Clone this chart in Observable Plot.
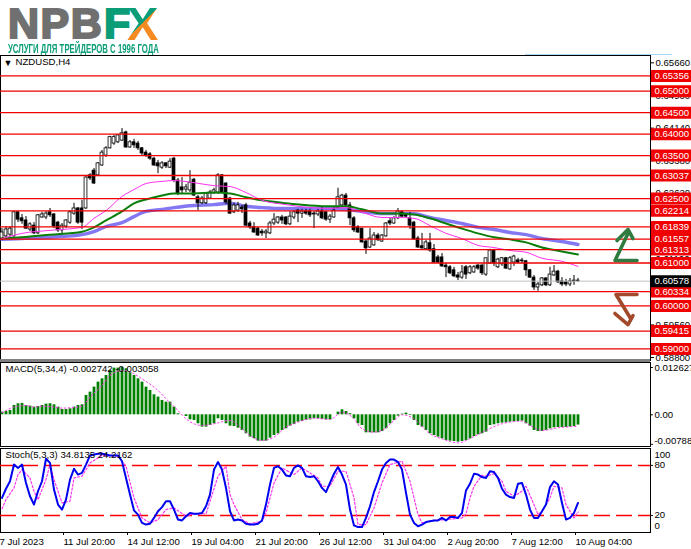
<!DOCTYPE html>
<html><head><meta charset="utf-8">
<script src="https://cdn.jsdelivr.net/npm/d3@7"></script>
<script src="https://cdn.jsdelivr.net/npm/@observablehq/plot@0.6"></script>
<style>
html,body{margin:0;padding:0;background:#fff;}
#root{position:relative;width:691px;height:549px;overflow:hidden;font-family:"Liberation Sans",sans-serif;}
#root>svg,#root>div{position:absolute;left:0;}
#root>svg{overflow:visible;}
.lg{position:absolute;font:bold 43px "Liberation Sans",sans-serif;line-height:43px;-webkit-text-stroke:2px currentColor;}
</style></head><body><div id="root"></div>
<script>
const opens=[.6157,.6162,.6166,.6162,.6218,.6204,.6199,.6178,.6187,.6169,.6206,.6206,.6218,.6213,.6194,.6176,.6185,.6194,.6215,.6227,.6227,.6227,.6304,.6315,.6304,.6327,.6350,.6367,.6378,.6381,.6385,.6404,.6369,.6381,.6378,.6367,.6357,.6353,.6343,.6332,.6322,.6332,.6322,.6343,.6292,.6276,.6271,.6269,.6294,.6253,.6239,.6239,.6250,.6262,.6264,.6304,.6285,.6250,.6218,.6222,.6229,.6234,.6192,.6183,.6180,.6173,.6169,.6169,.6192,.6194,.6206,.6206,.6190,.6206,.6222,.6215,.6220,.6220,.6215,.6213,.6220,.6218,.6201,.6206,.6229,.6234,.6257,.6234,.6204,.6183,.6180,.6150,.6136,.6141,.6164,.6150,.6162,.6197,.6192,.6204,.6218,.6211,.6204,.6194,.6157,.6139,.6132,.6146,.6132,.6113,.6113,.6094,.6090,.6083,.6071,.6066,.6090,.6076,.6078,.6094,.6094,.6073,.6099,.6129,.6090,.6097,.6111,.6085,.6101,.6106,.6104,.6104,.6083,.6066,.6043,.6048,.6064,.6048,.6071,.6080,.6057,.6055,.6050,.6057,.6059];
const closes=[.6171,.6178,.6180,.6218,.6201,.6197,.6180,.6190,.6169,.6211,.6213,.6215,.6211,.6185,.6176,.6187,.6199,.6218,.6227,.6194,.6194,.6299,.6297,.6285,.6332,.6357,.6367,.6393,.6393,.6397,.6402,.6369,.6381,.6374,.6367,.6355,.6350,.6343,.6327,.6325,.6332,.6325,.6336,.6292,.6262,.6269,.6276,.6287,.6257,.6239,.6250,.6262,.6264,.6269,.6304,.6264,.6241,.6215,.6234,.6234,.6225,.6187,.6183,.6171,.6164,.6169,.6173,.6192,.6201,.6206,.6199,.6190,.6208,.6218,.6215,.6220,.6215,.6211,.6213,.6220,.6204,.6201,.6208,.6222,.6253,.6257,.6234,.6204,.6176,.6171,.6148,.6134,.6157,.6164,.6153,.6164,.6192,.6192,.6204,.6220,.6208,.6208,.6187,.6155,.6136,.6134,.6148,.6129,.6101,.6101,.6092,.6090,.6076,.6069,.6066,.6078,.6073,.6090,.6090,.6087,.6076,.6111,.6129,.6099,.6108,.6111,.6087,.6111,.6115,.6101,.6106,.6083,.6066,.6043,.6050,.6064,.6048,.6073,.6080,.6055,.6050,.6050,.6057,.6059,.60578];
const lows=[.6153,.6157,.6160,.6160,.6194,.6190,.6178,.6173,.6166,.6166,.6204,.6201,.6206,.6180,.6171,.6166,.6180,.6190,.6211,.6190,.6178,.6225,.6292,.6283,.6301,.6325,.6346,.6365,.6374,.6378,.6383,.6367,.6367,.6367,.6362,.6350,.6346,.6339,.6325,.6308,.6318,.6320,.6320,.6287,.6257,.6260,.6264,.6264,.6255,.6222,.6236,.6236,.6248,.6260,.6260,.6262,.6236,.6213,.6215,.6218,.6215,.6185,.6178,.6169,.6162,.6162,.6157,.6166,.6187,.6190,.6190,.6187,.6187,.6201,.6194,.6204,.6211,.6206,.6180,.6208,.6201,.6197,.6192,.6204,.6227,.6229,.6232,.6187,.6171,.6169,.6146,.6120,.6134,.6139,.6150,.6148,.6160,.6187,.6190,.6201,.6206,.6204,.6178,.6153,.6134,.6132,.6129,.6125,.6099,.6099,.6090,.6066,.6073,.6066,.6059,.6062,.6062,.6073,.6076,.6083,.6071,.6069,.6097,.6092,.6087,.6092,.6085,.6083,.6092,.6099,.6099,.6069,.6064,.6036,.6034,.6045,.6045,.6045,.6069,.6052,.6045,.6045,.6045,.6048,.6055];
const highs=[.6180,.6185,.6185,.6220,.6220,.6213,.6208,.6194,.6194,.6213,.6218,.6220,.6227,.6215,.6197,.6192,.6201,.6222,.6239,.6229,.6246,.6301,.6308,.6320,.6334,.6362,.6371,.6395,.6397,.6399,.6413,.6407,.6385,.6388,.6383,.6369,.6362,.6357,.6346,.6339,.6336,.6334,.6343,.6346,.6297,.6299,.6283,.6315,.6297,.6257,.6255,.6264,.6269,.6274,.6308,.6306,.6287,.6253,.6239,.6241,.6234,.6239,.6197,.6194,.6183,.6178,.6178,.6197,.6215,.6208,.6211,.6208,.6220,.6222,.6225,.6225,.6225,.6225,.6220,.6225,.6229,.6220,.6213,.6229,.6274,.6260,.6262,.6241,.6208,.6187,.6180,.6153,.6180,.6171,.6169,.6166,.6194,.6204,.6208,.6227,.6222,.6215,.6218,.6197,.6162,.6169,.6153,.6169,.6143,.6118,.6122,.6099,.6094,.6090,.6078,.6094,.6094,.6094,.6094,.6097,.6097,.6111,.6132,.6132,.6111,.6113,.6113,.6115,.6118,.6111,.6111,.6106,.6085,.6071,.6055,.6066,.6066,.6090,.6094,.6083,.6066,.6062,.6064,.6071,.6064];

const maBars=[0,5,12,20,23,26,30,33,36,40,43,48,53,57,61,65,71,77,82,86,90,95,99,103,107,111,115,119,123,127,131,135,140,144];
const maFast=[.6157,.6169,.6176,.6183,.6204,.6222,.6255,.6271,.6285,.6290,.6292,.6287,.6280,.6278,.6264,.6246,.6236,.6229,.6227,.6229,.6218,.6206,.6206,.6204,.6187,.6169,.6157,.6141,.6136,.6129,.6125,.6111,.6104,.6092];
const maMid=[.6157,.6160,.6166,.6173,.6183,.6199,.6220,.6239,.6248,.6257,.6262,.6262,.6264,.6262,.6253,.6246,.6239,.6234,.6232,.6232,.6225,.6215,.6215,.6213,.6204,.6192,.6180,.6169,.6160,.6155,.6148,.6136,.6127,.6120];
const maSlow=[.6155,.6157,.6160,.6166,.6173,.6185,.6194,.6208,.6220,.6225,.6229,.6234,.6236,.6239,.6232,.6229,.6227,.6227,.6227,.6225,.6220,.6215,.6215,.6215,.6206,.6199,.6192,.6183,.6178,.6171,.6166,.6157,.6150,.6143];

const levels=[.65356,.65,.645,.64,.635,.63037,.625,.62214,.61839,.61557,.61313,.61,.60334,.6,.59415,.59];
const lastPrice=.60578;
const priceTicks=[.6566,.649,.6414,.6338,.6262,.611,.5956,.588];

const upLineBars=[158.75,153.25,156.5], upLinePrices=[.61058,.61058,.61687];
const upHeadBars=[153.75,156.5,157.75], upHeadPrices=[.61523,.6178,.6157];
const downLineBars=[158.75,153.5,157], downLinePrices=[.60266,.60266,.59731];
const downHeadBars=[153.25,156.5,157.75], downHeadPrices=[.59824,.59568,.59777];

const macdHist=[.00071,.00089,.00116,.00249,.00294,.00303,.00249,.00231,.00205,.00223,.00249,.00285,.00294,.00267,.00205,.00142,.00142,.0016,.00205,.00249,.00267,.00516,.00605,.00739,.00872,.00961,.0105,.01184,.01246,.01246,.01262,.01228,.01139,.0105,.00961,.00872,.00739,.0065,.00534,.00472,.00383,.00338,.00338,.00205,.00027,0,-.00045,-.00134,-.00151,-.0024,-.00329,-.00329,-.00285,-.0024,-.00107,-.00151,-.0024,-.00303,-.00312,-.00356,-.00418,-.00507,-.00596,-.00641,-.00703,-.00703,-.00703,-.00623,-.00552,-.00507,-.00418,-.00374,-.00303,-.00258,-.00196,-.00178,-.00151,-.00134,-.00107,-.00107,-.00125,-.00134,-.00134,0,.00071,.00134,.00089,.00027,-.00107,-.0024,-.00285,-.00481,-.00481,-.00481,-.00481,-.00445,-.00374,-.0024,-.00151,-.00036,.00018,.00045,-.00018,-.00151,-.00285,-.00329,-.00418,-.00507,-.00552,-.00596,-.00641,-.00685,-.00703,-.00712,-.0073,-.00712,-.00685,-.00641,-.00579,-.00534,-.00507,-.00463,-.00285,-.00267,-.0024,-.00223,-.00214,-.00196,-.00187,-.00178,-.00169,-.0024,-.00303,-.00418,-.00445,-.00445,-.00418,-.00374,-.00347,-.00338,-.00338,-.00338,-.00329,-.00312,-.00274];
const macdSignalBars=[0,3,6,8,10,13,15,20,22,25,27,30,33,35,39,41,44,46,50,53,57,60,62,65,68,71,74,78,82,85,88,90,93,95,98,100,103,107,110,114,118,121,125,130,132,135,139,144];
const macdSignal=[.00053,.00205,.00249,.00205,.00231,.00205,.00178,.00231,.00472,.00783,.0105,.01184,.01095,.00961,.0065,.00427,.00116,-.00107,-.00285,-.0024,-.00151,-.00374,-.00552,-.00685,-.00596,-.00329,-.00196,-.00089,-.00125,.00071,-.00107,-.00374,-.00463,-.00418,-.00151,0,-.00107,-.00507,-.00641,-.00748,-.00579,-.00418,-.0024,-.00169,-.00285,-.00418,-.00347,-.00306];

const stochMain=[41,52,61,81,77,81,59,43,33,49,61,88,83,51,33,27,39,63,76,69,71,81,92,93,94,94,93,92,92,92,85,65,45,26,21,11,9,10,17,25,30,37,37,27,15,14,19,23,22,22,23,31,45,75,84,75,53,25,14,15,14,10,9,9,10,14,33,57,77,79,75,68,67,77,80,77,67,66,67,61,53,48,59,70,78,69,57,27,8,6,6,17,31,48,61,75,83,87,87,84,75,47,21,11,7,9,12,13,14,14,17,14,18,18,17,23,50,58,70,69,66,65,73,72,65,52,45,42,41,58,59,45,27,17,17,25,33,54,61,57,35,15,17,23,35];
const stochSignalBars=[0,1,3,4,5,7,8,9,11,12,13,15,17,18,20,22,25,29,31,33,35,37,39,41,43,46,48,51,52,54,56,57,58,60,62,65,66,68,70,73,75,77,79,80,82,84,86,88,89,91,93,95,97,100,102,104,105,108,111,115,116,117,118,120,121,123,125,126,128,130,131,133,134,135,137,138,140,141,143,144];
const stochSignal=[28,39,53,69,75,65,49,39,63,81,63,35,37,65,67,83,92,91,79,41,17,11,15,27,29,19,22,22,37,67,79,45,33,15,10,13,23,59,77,69,77,71,65,55,55,73,73,41,9,9,29,59,81,85,61,21,11,14,15,17,22,41,55,68,67,70,61,49,43,49,55,33,21,25,41,55,53,33,17,24];
const stochLevels=[80,20];

const timeBars=[0,16,32,48,64,80,96,112,128,144];
const timeLabels=["7 Jul 2023","11 Jul 20:00","14 Jul 12:00","19 Jul 04:00","21 Jul 20:00","26 Jul 12:00","31 Jul 04:00","2 Aug 20:00","7 Aug 12:00","10 Aug 04:00"];

const xDomain=[-0.375,162.125];
const candles=opens.map((o,i)=>({i,o,c:closes[i],l:lows[i],h:highs[i]}));
const zip=(a,b)=>a.map((x,i)=>({x,y:b[i]}));
const font={fontFamily:"Liberation Sans, sans-serif",fontSize:"9.6px",color:"#000",background:"transparent",overflow:"visible"};
const fmt5=d=>d.toFixed(5);
const base={width:691,marginLeft:0,marginRight:41,marginTop:0,style:font};
const root=document.getElementById("root");
function put(el,top){el.style.top=top+"px";root.appendChild(el);}

/* logo */
const logo=document.createElement("div");
logo.style.cssText="top:0;width:691px;height:55px;";
logo.innerHTML=`<span class="lg" style="left:8px;top:2px;color:#707070;letter-spacing:1.5px">NPB</span>
<span class="lg" style="left:104px;top:2px;color:#0b9c78">F</span>
<span class="lg" style="left:127px;top:0px;padding:0 2px 0 0;color:transparent;-webkit-text-stroke:0;background:linear-gradient(135deg,#0b9c78 0 47%,#f58a20 47% 100%);-webkit-background-clip:text;background-clip:text;font-size:47px;line-height:48px;">X</span>
<span style="position:absolute;left:8px;top:41px;font:bold 13px 'Liberation Sans',sans-serif;color:#0b9c78;white-space:nowrap;transform:scaleX(.6);transform-origin:0 0;">УСЛУГИ ДЛЯ ТРЕЙДЕРОВ С 1996 ГОДА</span>
<span style="position:absolute;left:525px;top:54px;width:147px;height:1px;background:#a8d8f5"></span>`;
root.appendChild(logo);

/* price pane */
const main=Plot.plot({...base,height:305,marginBottom:0,
  x:{domain:xDomain,axis:null},
  y:{domain:[.5873,.65831],axis:null},
  marks:[
    Plot.frame({stroke:"#000"}),
    Plot.axisY(priceTicks,{anchor:"right",tickSize:3,tickPadding:2,tickFormat:fmt5,label:null,fill:"#000",textStroke:"none"}),
    Plot.line(zip(maBars,maSlow),{x:"x",y:"y",stroke:"#8378f2",strokeWidth:3.4,curve:"monotone-x"}),
    Plot.ruleX(candles,{x:"i",y1:"l",y2:"h",stroke:"#000",strokeWidth:1}),
    Plot.rect(candles.filter(d=>d.c>=d.o),{x1:d=>d.i-.36,x2:d=>d.i+.36,y1:"o",y2:"c",fill:"#fff",stroke:"#000",strokeWidth:.8}),
    Plot.rect(candles.filter(d=>d.c<d.o),{x1:d=>d.i-.36,x2:d=>d.i+.36,y1:"o",y2:"c",fill:"#000",stroke:"#000",strokeWidth:.8}),
    Plot.line(zip(maBars,maMid),{x:"x",y:"y",stroke:"#0a7d0a",strokeWidth:2,curve:"monotone-x"}),
    Plot.line(zip(maBars,maFast),{x:"x",y:"y",stroke:"#ff33ee",strokeWidth:1,curve:"monotone-x"}),
    Plot.ruleY([lastPrice],{x1:xDomain[0],x2:xDomain[1],stroke:"#c0c0c0",strokeWidth:1}),
    Plot.ruleY(levels,{x1:xDomain[0],x2:xDomain[1],stroke:"#f00000",strokeWidth:1.3}),
    Plot.line(zip(upLineBars,upLinePrices),{x:"x",y:"y",stroke:"#2f7a3e",strokeWidth:3.6}),
    Plot.line(zip(upHeadBars,upHeadPrices),{x:"x",y:"y",stroke:"#2f7a3e",strokeWidth:3.6}),
    Plot.line(zip(downLineBars,downLinePrices),{x:"x",y:"y",stroke:"#a34a2c",strokeWidth:3.6}),
    Plot.line(zip(downHeadBars,downHeadPrices),{x:"x",y:"y",stroke:"#a34a2c",strokeWidth:3.6}),
    Plot.ruleY(levels,{x1:162.35,x2:173,stroke:"#f00000",strokeWidth:12}),
    Plot.text(levels,{x:163.1,y:d=>d,text:fmt5,textAnchor:"start",fill:"#fff"}),
    Plot.ruleY([lastPrice],{x1:162.35,x2:173,stroke:"#000",strokeWidth:12}),
    Plot.text([lastPrice],{x:163.1,y:d=>d,text:fmt5,textAnchor:"start",fill:"#fff"}),
    Plot.text(["▼"],{frameAnchor:"top-left",dx:3,dy:4,text:d=>d,fontSize:9,fill:"#000"}),
    Plot.text(["NZDUSD,H4"],{frameAnchor:"top-left",dx:15,dy:3,text:d=>d,fill:"#000"})
  ]});
put(main,55);

const sep=document.createElement("div");
sep.style.cssText="top:359px;width:650px;height:3px;background:#808080;";
root.appendChild(sep);

/* MACD pane */
const macd=Plot.plot({...base,height:84,marginBottom:0,
  x:{domain:xDomain,axis:null},
  y:{domain:[-.00846,.01396],axis:null},
  marks:[
    Plot.frame({stroke:"#000"}),
    Plot.ruleX(macdHist,{x:(d,i)=>i,y1:0,y2:d=>d,stroke:"#008000",strokeWidth:2.8}),
    Plot.line(zip(macdSignalBars,macdSignal),{x:"x",y:"y",stroke:"#ff33ee",strokeWidth:1,strokeDasharray:"1.5 2.5",curve:"monotone-x"}),
    Plot.text(["MACD(5,34,4) -0.002742 -0.003058"],{frameAnchor:"top-left",dx:5,dy:3,text:d=>d,fill:"#000"}),
    Plot.ruleY([.012627,0,-.00788],{x1:xDomain[1],x2:162.85,stroke:"#000"}),
    Plot.text([.012627],{x:163.1,y:d=>d,text:d=>d.toFixed(6),textAnchor:"start",fill:"#000"}),
    Plot.text([0],{x:163.1,y:d=>d,text:d=>d.toFixed(2),textAnchor:"start",fill:"#000"}),
    Plot.text([-.00788],{x:163.1,y:d=>d,dy:-3,text:d=>d.toFixed(5),textAnchor:"start",fill:"#000"})
  ]});
put(macd,362);

/* Stochastic pane */
const stoch=Plot.plot({...base,height:101,marginBottom:17,
  x:{domain:xDomain,axis:null},
  y:{domain:[-.5,100.3],axis:null},
  marks:[
    Plot.frame({stroke:"#000"}),
    Plot.axisX(timeBars,{anchor:"bottom",tickSize:3,tickPadding:3,textAnchor:"start",dx:-2.5,label:null,fill:"#000",
      tickFormat:d=>timeLabels[timeBars.indexOf(d)]}),
    Plot.ruleY(stochLevels,{x1:xDomain[0],x2:xDomain[1],stroke:"#ff0000",strokeWidth:1.5,strokeDasharray:"16 6"}),
    Plot.line(zip(stochSignalBars,stochSignal),{x:"x",y:"y",stroke:"#ff33ee",strokeWidth:1.2,strokeDasharray:"2 2"}),
    Plot.line(stochMain,{x:(d,i)=>i,y:d=>d,stroke:"#0000f0",strokeWidth:2}),
    Plot.text(["Stoch(5,3,3) 34.8135 24.2162"],{frameAnchor:"top-left",dx:5,dy:3,text:d=>d,fill:"#000"}),
    Plot.ruleY(stochLevels,{x1:xDomain[1],x2:162.85,stroke:"#000"}),
    Plot.text(stochLevels,{x:163.1,y:d=>d,text:d=>String(d),textAnchor:"start",fill:"#000"}),
    Plot.text([100],{x:163.1,y:d=>d,dy:6,text:d=>String(d),textAnchor:"start",fill:"#000"}),
    Plot.text([0],{x:163.1,y:d=>d,dy:-6,text:d=>String(d),textAnchor:"start",fill:"#000"})
  ]});
put(stoch,448);
</script></body></html>
